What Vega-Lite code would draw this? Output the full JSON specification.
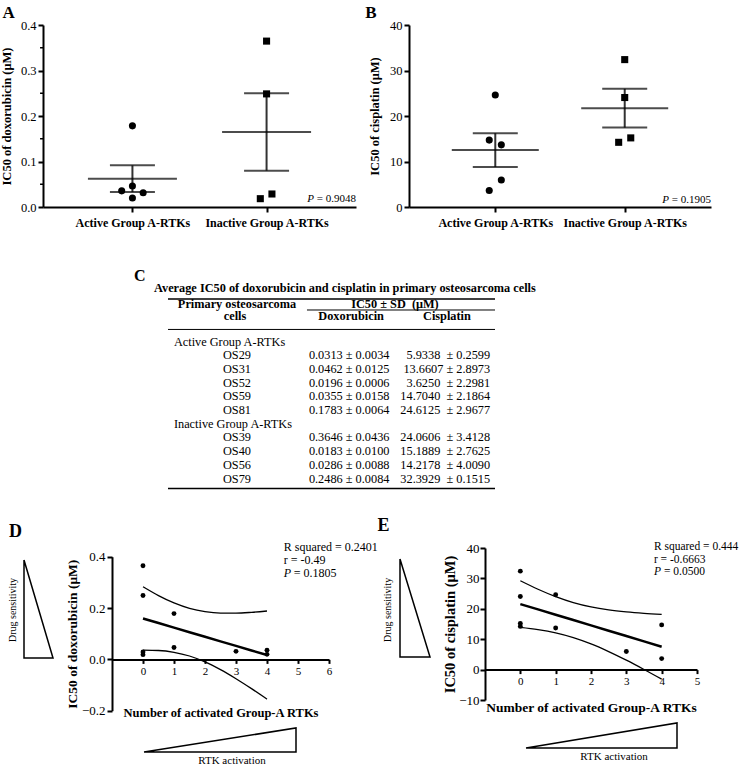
{
  "$schema": "https://vega.github.io/schema/vega-lite/v6.json",
  "background": "white",
  "autosize": "none",
  "padding": 0,
  "width": 742,
  "height": 766,
  "config": {
    "view": {"stroke": null},
    "axis": {"grid": false, "domainColor": "black", "tickColor": "black", "labelColor": "black", "titleColor": "black", "labelFont": "Liberation Serif", "titleFont": "Liberation Serif", "domainWidth": 2, "tickWidth": 2},
    "text": {"font": "Liberation Serif", "color": "black", "baseline": "middle"},
    "line": {"color": "black"},
    "rule": {"color": "black"}
  },
  "datasets": {
    "cells": [
      {"cell": "OS29", "group": "Active", "rtk": 3, "dox": 0.0313, "cis": 5.9338, "jA": 1.12, "jB": 1.07},
      {"cell": "OS31", "group": "Active", "rtk": 1, "dox": 0.0462, "cis": 13.6607, "jA": 1.0, "jB": 1.07},
      {"cell": "OS52", "group": "Active", "rtk": 4, "dox": 0.0196, "cis": 3.625, "jA": 1.0, "jB": 0.93},
      {"cell": "OS59", "group": "Active", "rtk": 4, "dox": 0.0355, "cis": 14.704, "jA": 0.88, "jB": 0.93},
      {"cell": "OS81", "group": "Active", "rtk": 1, "dox": 0.1783, "cis": 24.6125, "jA": 1.0, "jB": 1.0},
      {"cell": "OS39", "group": "Inactive", "rtk": 0, "dox": 0.3646, "cis": 24.0606, "jA": 2.5, "jB": 2.5},
      {"cell": "OS40", "group": "Inactive", "rtk": 0, "dox": 0.0183, "cis": 15.1889, "jA": 2.43, "jB": 2.57},
      {"cell": "OS56", "group": "Inactive", "rtk": 0, "dox": 0.0286, "cis": 14.2178, "jA": 2.56, "jB": 2.43},
      {"cell": "OS79", "group": "Inactive", "rtk": 0, "dox": 0.2486, "cis": 32.3929, "jA": 2.5, "jB": 2.5}
    ],
    "summary": [
      {"grp": 1, "doxMean": 0.0622, "doxLo": 0.0328, "doxHi": 0.0915, "cisMean": 12.507, "cisLo": 8.8, "cisHi": 16.214},
      {"grp": 2.5, "doxMean": 0.165, "doxLo": 0.0799, "doxHi": 0.2502, "cisMean": 21.715, "cisLo": 17.45, "cisHi": 25.98}
    ],
    "fit": [
      {"n": 0, "doxFit": 0.1594, "doxUp": 0.283, "doxLo": 0.0358, "cisFit": 21.555, "cisUp": 29.22, "cisLo": 13.89},
      {"n": 0.5, "doxFit": 0.1416, "doxUp": 0.2486, "doxLo": 0.0346, "cisFit": 19.801, "cisUp": 26.44, "cisLo": 13.16},
      {"n": 1, "doxFit": 0.1237, "doxUp": 0.2198, "doxLo": 0.0276, "cisFit": 18.048, "cisUp": 24.01, "cisLo": 12.08},
      {"n": 1.5, "doxFit": 0.1059, "doxUp": 0.1987, "doxLo": 0.0131, "cisFit": 16.294, "cisUp": 22.05, "cisLo": 10.53},
      {"n": 2, "doxFit": 0.0881, "doxUp": 0.186, "doxLo": -0.0098, "cisFit": 14.54, "cisUp": 20.62, "cisLo": 8.46},
      {"n": 2.5, "doxFit": 0.0702, "doxUp": 0.1805, "doxLo": -0.0401, "cisFit": 12.787, "cisUp": 19.63, "cisLo": 5.94},
      {"n": 3, "doxFit": 0.0524, "doxUp": 0.1802, "doxLo": -0.0754, "cisFit": 11.033, "cisUp": 18.97, "cisLo": 3.1},
      {"n": 3.5, "doxFit": 0.0346, "doxUp": 0.1833, "doxLo": -0.1141, "cisFit": 9.279, "cisUp": 18.51, "cisLo": 0.05},
      {"n": 4, "doxFit": 0.0168, "doxUp": 0.1885, "doxLo": -0.1549, "cisFit": 7.525, "cisUp": 18.18, "cisLo": -3.13}
    ],
    "minorA": [{"v": 0.05}, {"v": 0.15}, {"v": 0.25}, {"v": 0.35}],
    "triL": [{"i": 0, "tx": 0, "ty": 1}, {"i": 1, "tx": 0, "ty": 0}, {"i": 2, "tx": 1, "ty": 0}, {"i": 3, "tx": 0, "ty": 1}],
    "triB": [{"i": 0, "tx": 0, "ty": 0}, {"i": 1, "tx": 1, "ty": 0}, {"i": 2, "tx": 1, "ty": 1}, {"i": 3, "tx": 0, "ty": 0}],
    "tableRows": [
      {"line": 1, "cell": "OS29", "doxTxt": "0.0313 ± 0.0034", "cisTxt": "5.9338\u00a0\u00a0± 0.2599"},
      {"line": 2, "cell": "OS31", "doxTxt": "0.0462 ± 0.0125", "cisTxt": "13.6607 ± 2.8973"},
      {"line": 3, "cell": "OS52", "doxTxt": "0.0196 ± 0.0006", "cisTxt": "3.6250\u00a0\u00a0± 2.2981"},
      {"line": 4, "cell": "OS59", "doxTxt": "0.0355 ± 0.0158", "cisTxt": "14.7040\u00a0\u00a0± 2.1864"},
      {"line": 5, "cell": "OS81", "doxTxt": "0.1783 ± 0.0064", "cisTxt": "24.6125\u00a0\u00a0± 2.9677"},
      {"line": 7, "cell": "OS39", "doxTxt": "0.3646 ± 0.0436", "cisTxt": "24.0606\u00a0\u00a0± 3.4128"},
      {"line": 8, "cell": "OS40", "doxTxt": "0.0183 ± 0.0100", "cisTxt": "15.1889\u00a0\u00a0± 2.7625"},
      {"line": 9, "cell": "OS56", "doxTxt": "0.0286 ± 0.0088", "cisTxt": "14.2178\u00a0\u00a0± 4.0090"},
      {"line": 10, "cell": "OS79", "doxTxt": "0.2486 ± 0.0084", "cisTxt": "32.3929\u00a0\u00a0± 0.1515"}
    ],
    "tableGroups": [{"line": 0, "label": "Active Group A-RTKs"}, {"line": 6, "label": "Inactive Group A-RTKs"}]
  },
  "resolve": {"scale": {"x": "independent", "y": "independent"}, "axis": {"x": "independent", "y": "independent"}},
  "layer": [
    {
      "layer": [
        {"data": {"name": "summary"}, "mark": {"type": "rule", "strokeWidth": 2, "color": "#333"},
         "encoding": {"x": {"field": "grp", "type": "quantitative", "title": null}, "y": {"field": "doxLo", "type": "quantitative", "title": "IC50 of doxorubicin (μM)"}, "y2": {"field": "doxHi"}}},
        {"data": {"name": "summary"}, "mark": {"type": "tick", "orient": "horizontal", "size": 89, "thickness": 2, "color": "black"},
         "encoding": {"x": {"field": "grp", "type": "quantitative", "title": null}, "y": {"field": "doxMean", "type": "quantitative", "title": "IC50 of doxorubicin (μM)"}}},
        {"data": {"name": "summary"}, "mark": {"type": "tick", "orient": "horizontal", "size": 45, "thickness": 2, "color": "black"},
         "encoding": {"x": {"field": "grp", "type": "quantitative", "title": null}, "y": {"field": "doxLo", "type": "quantitative", "title": "IC50 of doxorubicin (μM)"}}},
        {"data": {"name": "summary"}, "mark": {"type": "tick", "orient": "horizontal", "size": 45, "thickness": 2, "color": "black"},
         "encoding": {"x": {"field": "grp", "type": "quantitative", "title": null}, "y": {"field": "doxHi", "type": "quantitative", "title": "IC50 of doxorubicin (μM)"}}},
        {"data": {"name": "minorA"}, "mark": {"type": "rule", "strokeWidth": 1.5},
         "encoding": {"x": {"datum": -0.033, "title": null}, "x2": {"datum": 0}, "y": {"field": "v", "type": "quantitative", "title": "IC50 of doxorubicin (μM)"}}},
        {"data": {"values": [{}]}, "mark": {"type": "text", "text": "= 0.9048", "fontSize": 11, "align": "right"},
         "encoding": {"x": {"datum": 3.5, "title": null}, "y": {"datum": 0.018, "title": "IC50 of doxorubicin (μM)"}}},
        {"data": {"values": [{}]}, "mark": {"type": "text", "text": "P", "fontSize": 11, "fontStyle": "italic", "align": "right", "dx": -42},
         "encoding": {"x": {"datum": 3.5, "title": null}, "y": {"datum": 0.018, "title": "IC50 of doxorubicin (μM)"}}},
        {"data": {"values": [{}]}, "mark": {"type": "text", "text": "A", "fontSize": 17, "fontWeight": "bold"},
         "encoding": {"x": {"datum": -0.385, "title": null}, "y": {"datum": 0.426, "title": "IC50 of doxorubicin (μM)"}}},
        {"data": {"name": "cells"}, "mark": {"type": "point", "filled": true, "opacity": 1, "size": 50, "color": "black"},
         "encoding": {
           "x": {"field": "jA", "type": "quantitative", "title": null, "scale": {"domain": [0, 3.5], "range": [43, 356], "nice": false, "zero": false},
                 "axis": {"orient": "bottom", "offset": -559, "values": [1, 2.5], "labelExpr": "datum.value == 1 ? 'Active Group A-RTKs' : 'Inactive Group A-RTKs'", "labelFontSize": 12, "labelFontWeight": "bold", "tickSize": 5, "labelPadding": 5, "labelOverlap": false, "labelFlush": false}},
           "y": {"field": "dox", "type": "quantitative", "title": "IC50 of doxorubicin (μM)", "scale": {"domain": [0, 0.4], "range": [207, 25], "nice": false, "zero": false},
                 "axis": {"orient": "left", "offset": -43, "values": [0, 0.1, 0.2, 0.3, 0.4], "format": ".1f", "labelFontSize": 12.5, "titleFontSize": 12.5, "titleFontWeight": "bold", "tickSize": 5, "labelPadding": 2, "titlePadding": 6.5}},
           "shape": {"field": "group", "type": "nominal", "scale": {"domain": ["Active", "Inactive"], "range": ["circle", "square"]}, "legend": null}
         }}
      ]
    },
    {
      "layer": [
        {"data": {"name": "summary"}, "mark": {"type": "rule", "strokeWidth": 2, "color": "#333"},
         "encoding": {"x": {"field": "grp", "type": "quantitative", "title": null}, "y": {"field": "cisLo", "type": "quantitative", "title": "IC50 of cisplatin (μM)"}, "y2": {"field": "cisHi"}}},
        {"data": {"name": "summary"}, "mark": {"type": "tick", "orient": "horizontal", "size": 87, "thickness": 2, "color": "black"},
         "encoding": {"x": {"field": "grp", "type": "quantitative", "title": null}, "y": {"field": "cisMean", "type": "quantitative", "title": "IC50 of cisplatin (μM)"}}},
        {"data": {"name": "summary"}, "mark": {"type": "tick", "orient": "horizontal", "size": 45, "thickness": 2, "color": "black"},
         "encoding": {"x": {"field": "grp", "type": "quantitative", "title": null}, "y": {"field": "cisLo", "type": "quantitative", "title": "IC50 of cisplatin (μM)"}}},
        {"data": {"name": "summary"}, "mark": {"type": "tick", "orient": "horizontal", "size": 45, "thickness": 2, "color": "black"},
         "encoding": {"x": {"field": "grp", "type": "quantitative", "title": null}, "y": {"field": "cisHi", "type": "quantitative", "title": "IC50 of cisplatin (μM)"}}},
        {"data": {"values": [{}]}, "mark": {"type": "text", "text": "= 0.1905", "fontSize": 11, "align": "right"},
         "encoding": {"x": {"datum": 3.5, "title": null}, "y": {"datum": 1.6, "title": "IC50 of cisplatin (μM)"}}},
        {"data": {"values": [{}]}, "mark": {"type": "text", "text": "P", "fontSize": 11, "fontStyle": "italic", "align": "right", "dx": -42},
         "encoding": {"x": {"datum": 3.5, "title": null}, "y": {"datum": 1.6, "title": "IC50 of cisplatin (μM)"}}},
        {"data": {"values": [{}]}, "mark": {"type": "text", "text": "B", "fontSize": 17, "fontWeight": "bold"},
         "encoding": {"x": {"datum": -0.44, "title": null}, "y": {"datum": 42.6, "title": "IC50 of cisplatin (μM)"}}},
        {"data": {"name": "cells"}, "mark": {"type": "point", "filled": true, "opacity": 1, "size": 50, "color": "black"},
         "encoding": {
           "x": {"field": "jB", "type": "quantitative", "title": null, "scale": {"domain": [0, 3.5], "range": [409, 711], "nice": false, "zero": false},
                 "axis": {"orient": "bottom", "offset": -559, "values": [1, 2.5], "labelExpr": "datum.value == 1 ? 'Active Group A-RTKs' : 'Inactive Group A-RTKs'", "labelFontSize": 12, "labelFontWeight": "bold", "tickSize": 5, "labelPadding": 5, "labelOverlap": false, "labelFlush": false}},
           "y": {"field": "cis", "type": "quantitative", "title": "IC50 of cisplatin (μM)", "scale": {"domain": [0, 40], "range": [207, 25], "nice": false, "zero": false},
                 "axis": {"orient": "left", "offset": -409, "values": [0, 10, 20, 30, 40], "format": "d", "labelFontSize": 12.5, "titleFontSize": 12.5, "titleFontWeight": "bold", "tickSize": 5, "labelPadding": 2, "titlePadding": 8}},
           "shape": {"field": "group", "type": "nominal", "scale": {"domain": ["Active", "Inactive"], "range": ["circle", "square"]}, "legend": null}
         }}
      ]
    },
    {
      "layer": [
        {"data": {"name": "tableRows"}, "mark": {"type": "text", "fontSize": 12.3, "align": "center"},
         "encoding": {"x": {"datum": 21.1, "scale": {"domain": [0, 100], "range": [168, 495]}, "axis": null},
                      "y": {"field": "line", "type": "quantitative", "scale": {"domain": [0, 10], "range": [341.5, 478.5]}, "axis": null},
                      "text": {"field": "cell"}}},
        {"data": {"name": "tableRows"}, "mark": {"type": "text", "fontSize": 12.3, "align": "center"},
         "encoding": {"x": {"datum": 55.4, "axis": null}, "y": {"field": "line", "type": "quantitative", "axis": null}, "text": {"field": "doxTxt"}}},
        {"data": {"name": "tableRows"}, "mark": {"type": "text", "fontSize": 12.3, "align": "right"},
         "encoding": {"x": {"datum": 98.5, "axis": null}, "y": {"field": "line", "type": "quantitative", "axis": null}, "text": {"field": "cisTxt"}}},
        {"data": {"name": "tableGroups"}, "mark": {"type": "text", "fontSize": 12.3, "align": "left"},
         "encoding": {"x": {"datum": 1.8, "axis": null}, "y": {"field": "line", "type": "quantitative", "axis": null}, "text": {"field": "label"}}},
        {"data": {"values": [{}]}, "mark": {"type": "text", "text": "C", "fontSize": 16, "fontWeight": "bold"},
         "encoding": {"x": {"datum": -8.6, "axis": null}, "y": {"datum": -4.8, "axis": null}}},
        {"data": {"values": [{}]}, "mark": {"type": "text", "text": "Average IC50 of doxorubicin and cisplatin in primary osteosarcoma cells", "fontSize": 12.3, "fontWeight": "bold"},
         "encoding": {"x": {"datum": 54.1, "axis": null}, "y": {"datum": -3.87, "axis": null}}},
        {"data": {"values": [{}]}, "mark": {"type": "rule", "strokeWidth": 1.5},
         "encoding": {"x": {"datum": 0, "axis": null}, "x2": {"datum": 100}, "y": {"datum": -3.1, "axis": null}}},
        {"data": {"values": [{}]}, "mark": {"type": "text", "text": "Primary osteosarcoma", "fontSize": 12.3, "fontWeight": "bold"},
         "encoding": {"x": {"datum": 21.1, "axis": null}, "y": {"datum": -2.77, "axis": null}}},
        {"data": {"values": [{}]}, "mark": {"type": "text", "text": "cells", "fontSize": 12.3, "fontWeight": "bold"},
         "encoding": {"x": {"datum": 20.5, "axis": null}, "y": {"datum": -1.83, "axis": null}}},
        {"data": {"values": [{}]}, "mark": {"type": "text", "text": "IC50 ± SD\u00a0\u00a0(μM)", "fontSize": 12.3, "fontWeight": "bold"},
         "encoding": {"x": {"datum": 69.4, "axis": null}, "y": {"datum": -2.77, "axis": null}}},
        {"data": {"values": [{}]}, "mark": {"type": "rule", "strokeWidth": 1},
         "encoding": {"x": {"datum": 42.5, "axis": null}, "x2": {"datum": 100}, "y": {"datum": -2.3, "axis": null}}},
        {"data": {"values": [{}]}, "mark": {"type": "text", "text": "Doxorubicin", "fontSize": 12.3, "fontWeight": "bold"},
         "encoding": {"x": {"datum": 56, "axis": null}, "y": {"datum": -1.83, "axis": null}}},
        {"data": {"values": [{}]}, "mark": {"type": "text", "text": "Cisplatin", "fontSize": 12.3, "fontWeight": "bold"},
         "encoding": {"x": {"datum": 85.3, "axis": null}, "y": {"datum": -1.83, "axis": null}}},
        {"data": {"values": [{}]}, "mark": {"type": "rule", "strokeWidth": 1},
         "encoding": {"x": {"datum": 0, "axis": null}, "x2": {"datum": 100}, "y": {"datum": -0.88, "axis": null}}},
        {"data": {"values": [{}]}, "mark": {"type": "rule", "strokeWidth": 1.5},
         "encoding": {"x": {"datum": 0, "axis": null}, "x2": {"datum": 100}, "y": {"datum": 10.73, "axis": null}}}
      ]
    },
    {
      "layer": [
        {"data": {"name": "triL"}, "mark": {"type": "line", "strokeWidth": 1.5, "color": "black", "strokeJoin": "miter"},
         "encoding": {"x": {"field": "tx", "type": "quantitative", "scale": {"domain": [0, 1], "range": [24, 53]}, "axis": null},
                      "y": {"field": "ty", "type": "quantitative", "scale": {"domain": [0, 1], "range": [658, 560]}, "axis": null},
                      "order": {"field": "i", "type": "quantitative"}}},
        {"data": {"values": [{}]}, "mark": {"type": "text", "text": "Drug sensitivity", "angle": 270, "fontSize": 10},
         "encoding": {"x": {"datum": -0.38, "axis": null}, "y": {"datum": 0.49, "axis": null}}},
        {"data": {"values": [{}]}, "mark": {"type": "text", "text": "D", "fontSize": 18, "fontWeight": "bold"},
         "encoding": {"x": {"datum": -0.29, "axis": null}, "y": {"datum": 1.29, "axis": null}}}
      ]
    },
    {
      "layer": [
        {"data": {"name": "fit"}, "mark": {"type": "line", "strokeWidth": 2.5, "color": "black"},
         "encoding": {"x": {"field": "n", "type": "quantitative", "title": "Number of activated Group-A RTKs"}, "y": {"field": "doxFit", "type": "quantitative", "title": "IC50 of doxorubicin (μM)"}}},
        {"data": {"name": "fit"}, "mark": {"type": "line", "strokeWidth": 1.3, "color": "black", "interpolate": "monotone"},
         "encoding": {"x": {"field": "n", "type": "quantitative", "title": "Number of activated Group-A RTKs"}, "y": {"field": "doxUp", "type": "quantitative", "title": "IC50 of doxorubicin (μM)"}}},
        {"data": {"name": "fit"}, "mark": {"type": "line", "strokeWidth": 1.3, "color": "black", "interpolate": "monotone"},
         "encoding": {"x": {"field": "n", "type": "quantitative", "title": "Number of activated Group-A RTKs"}, "y": {"field": "doxLo", "type": "quantitative", "title": "IC50 of doxorubicin (μM)"}}},
        {"data": {"values": [{}]}, "mark": {"type": "text", "text": "R squared = 0.2401", "fontSize": 12, "align": "left"},
         "encoding": {"x": {"datum": 4.54, "title": "Number of activated Group-A RTKs"}, "y": {"datum": 0.439, "title": "IC50 of doxorubicin (μM)"}}},
        {"data": {"values": [{}]}, "mark": {"type": "text", "text": "r = -0.49", "fontSize": 12, "align": "left"},
         "encoding": {"x": {"datum": 4.54, "title": "Number of activated Group-A RTKs"}, "y": {"datum": 0.388, "title": "IC50 of doxorubicin (μM)"}}},
        {"data": {"values": [{}]}, "mark": {"type": "text", "text": "P", "fontSize": 12, "fontStyle": "italic", "align": "left"},
         "encoding": {"x": {"datum": 4.54, "title": "Number of activated Group-A RTKs"}, "y": {"datum": 0.337, "title": "IC50 of doxorubicin (μM)"}}},
        {"data": {"values": [{}]}, "mark": {"type": "text", "text": "= 0.1805", "fontSize": 12, "align": "left", "dx": 10},
         "encoding": {"x": {"datum": 4.54, "title": "Number of activated Group-A RTKs"}, "y": {"datum": 0.337, "title": "IC50 of doxorubicin (μM)"}}},
        {"data": {"name": "cells"}, "mark": {"type": "circle", "size": 24, "opacity": 1, "color": "black"},
         "encoding": {
           "x": {"field": "rtk", "type": "quantitative", "title": "Number of activated Group-A RTKs", "scale": {"domain": [-1, 6], "range": [112, 329], "nice": false, "zero": false},
                 "axis": {"orient": "bottom", "offset": -106.6, "values": [0, 1, 2, 3, 4, 5, 6], "format": "d", "tickSize": 4, "labelFontSize": 11, "labelPadding": 2, "titleFontSize": 12.5, "titleFontWeight": "bold", "titlePadding": 30, "labelFlush": false}},
           "y": {"field": "dox", "type": "quantitative", "title": "IC50 of doxorubicin (μM)", "scale": {"domain": [-0.2, 0.4], "range": [710.7, 556.7], "nice": false, "zero": false},
                 "axis": {"orient": "left", "offset": -112, "values": [-0.2, 0, 0.2, 0.4], "format": ".1f", "labelFontSize": 13, "tickSize": 5, "labelPadding": 2, "titleFontSize": 13.5, "titleFontWeight": "bold", "titlePadding": 2}}
         }}
      ]
    },
    {
      "layer": [
        {"data": {"name": "triL"}, "mark": {"type": "line", "strokeWidth": 1.5, "color": "black", "strokeJoin": "miter"},
         "encoding": {"x": {"field": "tx", "type": "quantitative", "scale": {"domain": [0, 1], "range": [400, 430]}, "axis": null},
                      "y": {"field": "ty", "type": "quantitative", "scale": {"domain": [0, 1], "range": [657, 559]}, "axis": null},
                      "order": {"field": "i", "type": "quantitative"}}},
        {"data": {"values": [{}]}, "mark": {"type": "text", "text": "Drug sensitivity", "angle": 270, "fontSize": 10},
         "encoding": {"x": {"datum": -0.4, "axis": null}, "y": {"datum": 0.48, "axis": null}}},
        {"data": {"values": [{}]}, "mark": {"type": "text", "text": "E", "fontSize": 18, "fontWeight": "bold"},
         "encoding": {"x": {"datum": -0.55, "axis": null}, "y": {"datum": 1.337, "axis": null}}}
      ]
    },
    {
      "layer": [
        {"data": {"name": "fit"}, "mark": {"type": "line", "strokeWidth": 2.5, "color": "black"},
         "encoding": {"x": {"field": "n", "type": "quantitative", "title": "Number of activated Group-A RTKs"}, "y": {"field": "cisFit", "type": "quantitative", "title": "IC50 of cisplatin (μM)"}}},
        {"data": {"name": "fit"}, "mark": {"type": "line", "strokeWidth": 1.3, "color": "black", "interpolate": "monotone"},
         "encoding": {"x": {"field": "n", "type": "quantitative", "title": "Number of activated Group-A RTKs"}, "y": {"field": "cisUp", "type": "quantitative", "title": "IC50 of cisplatin (μM)"}}},
        {"data": {"name": "fit"}, "mark": {"type": "line", "strokeWidth": 1.3, "color": "black", "interpolate": "monotone"},
         "encoding": {"x": {"field": "n", "type": "quantitative", "title": "Number of activated Group-A RTKs"}, "y": {"field": "cisLo", "type": "quantitative", "title": "IC50 of cisplatin (μM)"}}},
        {"data": {"values": [{}]}, "mark": {"type": "text", "text": "R squared = 0.444", "fontSize": 11.5, "align": "left"},
         "encoding": {"x": {"datum": 3.78, "title": "Number of activated Group-A RTKs"}, "y": {"datum": 40.3, "title": "IC50 of cisplatin (μM)"}}},
        {"data": {"values": [{}]}, "mark": {"type": "text", "text": "r = -0.6663", "fontSize": 11.5, "align": "left"},
         "encoding": {"x": {"datum": 3.78, "title": "Number of activated Group-A RTKs"}, "y": {"datum": 36.2, "title": "IC50 of cisplatin (μM)"}}},
        {"data": {"values": [{}]}, "mark": {"type": "text", "text": "P", "fontSize": 11.5, "fontStyle": "italic", "align": "left"},
         "encoding": {"x": {"datum": 3.78, "title": "Number of activated Group-A RTKs"}, "y": {"datum": 32.1, "title": "IC50 of cisplatin (μM)"}}},
        {"data": {"values": [{}]}, "mark": {"type": "text", "text": "= 0.0500", "fontSize": 11.5, "align": "left", "dx": 10},
         "encoding": {"x": {"datum": 3.78, "title": "Number of activated Group-A RTKs"}, "y": {"datum": 32.1, "title": "IC50 of cisplatin (μM)"}}},
        {"data": {"name": "cells"}, "mark": {"type": "circle", "size": 24, "opacity": 1, "color": "black"},
         "encoding": {
           "x": {"field": "rtk", "type": "quantitative", "title": "Number of activated Group-A RTKs", "scale": {"domain": [-1, 5], "range": [485, 697], "nice": false, "zero": false},
                 "axis": {"orient": "bottom", "offset": -96.4, "values": [0, 1, 2, 3, 4, 5], "format": "d", "tickSize": 4, "labelFontSize": 11, "labelPadding": 2, "titleFontSize": 13.5, "titleFontWeight": "bold", "titlePadding": 13.5, "labelFlush": false}},
           "y": {"field": "cis", "type": "quantitative", "title": "IC50 of cisplatin (μM)", "scale": {"domain": [-10, 40], "range": [700, 548], "nice": false, "zero": false},
                 "axis": {"orient": "left", "offset": -485, "values": [-10, 0, 10, 20, 30, 40], "format": "d", "labelFontSize": 13, "tickSize": 5, "labelPadding": 1, "titleFontSize": 14.5, "titleFontWeight": "bold", "titlePadding": 1}}
         }}
      ]
    },
    {
      "layer": [
        {"data": {"name": "triB"}, "mark": {"type": "line", "strokeWidth": 1.5, "color": "black", "strokeJoin": "miter"},
         "encoding": {"x": {"field": "tx", "type": "quantitative", "scale": {"domain": [0, 1], "range": [144, 296]}, "axis": null},
                      "y": {"field": "ty", "type": "quantitative", "scale": {"domain": [0, 1], "range": [752, 728]}, "axis": null},
                      "order": {"field": "i", "type": "quantitative"}}},
        {"data": {"values": [{}]}, "mark": {"type": "text", "text": "RTK activation", "fontSize": 11},
         "encoding": {"x": {"datum": 0.579, "axis": null}, "y": {"datum": -0.375, "axis": null}}}
      ]
    },
    {
      "layer": [
        {"data": {"name": "triB"}, "mark": {"type": "line", "strokeWidth": 1.5, "color": "black", "strokeJoin": "miter"},
         "encoding": {"x": {"field": "tx", "type": "quantitative", "scale": {"domain": [0, 1], "range": [526, 677]}, "axis": null},
                      "y": {"field": "ty", "type": "quantitative", "scale": {"domain": [0, 1], "range": [748, 723]}, "axis": null},
                      "order": {"field": "i", "type": "quantitative"}}},
        {"data": {"values": [{}]}, "mark": {"type": "text", "text": "RTK activation", "fontSize": 11},
         "encoding": {"x": {"datum": 0.583, "axis": null}, "y": {"datum": -0.36, "axis": null}}}
      ]
    }
  ]
}
